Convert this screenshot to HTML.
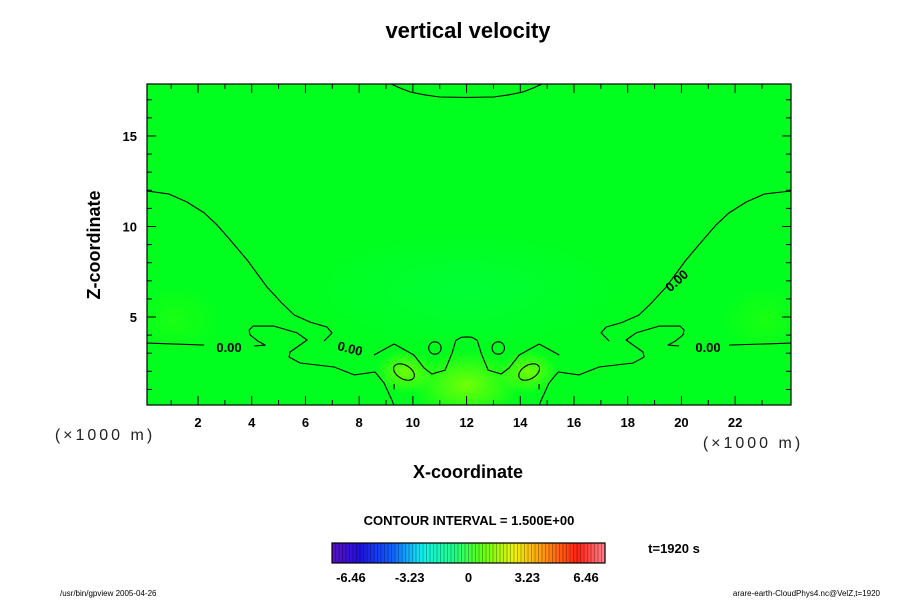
<!DOCTYPE html>
<html><head><meta charset="utf-8"><style>
body{margin:0;background:#fff;}
svg text{font-family:"Liberation Sans",sans-serif;}
</style></head><body>
<svg id="chart" width="900" height="600" viewBox="0 0 900 600" xmlns="http://www.w3.org/2000/svg">
<defs>
<radialGradient id="gY" cx="50%" cy="50%" r="50%"><stop offset="0" stop-color="#8cff00" stop-opacity="0.8"/><stop offset="1" stop-color="#8cff00" stop-opacity="0"/></radialGradient>
<radialGradient id="gC" cx="50%" cy="50%" r="50%"><stop offset="0" stop-color="#00ff70" stop-opacity="0.3"/><stop offset="1" stop-color="#00ff70" stop-opacity="0"/></radialGradient>
<radialGradient id="gL" cx="50%" cy="50%" r="50%"><stop offset="0" stop-color="#40ff00" stop-opacity="0.4"/><stop offset="1" stop-color="#40ff00" stop-opacity="0"/></radialGradient>
<clipPath id="plotclip"><rect x="147" y="84" width="644" height="321"/></clipPath>
<linearGradient id="cbar" x1="0" x2="1" y1="0" y2="0">
<stop offset="0" stop-color="#5a10c0"/><stop offset="0.1" stop-color="#2010e0"/><stop offset="0.22" stop-color="#1060ff"/><stop offset="0.33" stop-color="#10f0f0"/><stop offset="0.45" stop-color="#20ff80"/><stop offset="0.55" stop-color="#60ff10"/><stop offset="0.67" stop-color="#f0f010"/><stop offset="0.78" stop-color="#ff9010"/><stop offset="0.9" stop-color="#ff2010"/><stop offset="1" stop-color="#ff8090"/>
</linearGradient>
</defs>
<text x="468" y="38" text-anchor="middle" font-size="22" font-weight="bold">vertical velocity</text>
<g>
<rect x="147" y="84" width="644" height="321" fill="#00ff1e"/>
<g clip-path="url(#plotclip)">
<ellipse cx="466" cy="385" rx="55" ry="35" fill="url(#gY)"/>
<ellipse cx="405" cy="372" rx="30" ry="22" fill="url(#gY)"/>
<ellipse cx="528" cy="372" rx="30" ry="22" fill="url(#gY)"/>
<ellipse cx="466" cy="290" rx="160" ry="60" fill="url(#gC)"/>
<ellipse cx="175" cy="320" rx="45" ry="35" fill="url(#gL)"/>
<ellipse cx="765" cy="320" rx="45" ry="35" fill="url(#gL)"/>
</g>
<g id="contours" clip-path="url(#plotclip)"></g>
<g id="clabels">
<text x="229" y="352" text-anchor="middle" font-size="13" font-weight="bold">0.00</text>
<text x="708" y="352" text-anchor="middle" font-size="13" font-weight="bold">0.00</text>
<text x="350" y="353" text-anchor="middle" font-size="13" font-weight="bold" transform="rotate(14 350 349)">0.00</text>
<text x="677" y="285" text-anchor="middle" font-size="13" font-weight="bold" transform="rotate(-42 677 281)">0.00</text>
</g>
<rect x="147" y="84" width="644" height="321" fill="none" stroke="#000" stroke-width="1.2"/>
<g id="axes"></g>
</g>
<text x="105" y="440" text-anchor="middle" font-size="16" font-family="DejaVu Sans" font-weight="200" fill="#222" letter-spacing="3">(×1000 m)</text>
<text x="753" y="448" text-anchor="middle" font-size="16" font-family="DejaVu Sans" font-weight="200" fill="#222" letter-spacing="3">(×1000 m)</text>
<text x="468" y="478" text-anchor="middle" font-size="18" font-weight="bold">X-coordinate</text>
<text x="0" y="0" text-anchor="middle" font-size="18" font-weight="bold" transform="translate(100 245) rotate(-90)">Z-coordinate</text>
<text x="469" y="525" text-anchor="middle" font-size="13" font-weight="bold">CONTOUR INTERVAL = 1.500E+00</text>
<g id="colorbar">
<rect x="332" y="543" width="273" height="20" fill="url(#cbar)"/>
</g>
<text x="674" y="553" text-anchor="middle" font-size="13" font-weight="bold">t=1920 s</text>
<text x="60" y="596" font-size="8">/usr/bin/gpview 2005-04-26</text>
<text x="880" y="596" text-anchor="end" font-size="8">arare-earth-CloudPhys4.nc@VelZ,t=1920</text>
</svg>
<script>
// axis data
const xTicksMajor = [2,4,6,8,10,12,14,16,18,20,22];
const xTicksMinor = [1,3,5,7,9,11,13,15,17,19,21,23];
const yTicksMajor = [5,10,15];
const yTicksMinor = [1,2,3,4,6,7,8,9,11,12,13,14,16,17];
const yTickLabels = ["5","10","15"];
// contour data (x in 1000 m, z in 1000 m), left half; mirrored about x=12
const outerLeft = [[0.1,11.96],[0.9,11.8],[1.59,11.35],[2.23,10.75],[2.7,10.1],[3.2,9.25],[3.83,8.15],[4.57,6.66],[5.1,5.8],[5.58,5.11],[6.2,4.7],[6.8,4.45],[6.99,4.12],[6.69,3.67]];
const lowLeftA = [[0.1,3.56],[2.23,3.45]];
const lowLeftB = [[4.09,3.4],[4.5,3.45],[4.23,3.67],[3.94,4.01],[3.9,4.28],[4.05,4.5],[4.83,4.5],[5.69,4.12],[6.06,3.73],[5.43,3.07],[5.39,2.79],[5.8,2.46],[7.07,2.24],[7.81,1.8],[8.59,1.96],[8.93,1.35],[9.22,0.41],[9.3,0.1]];
const centerLeft = [[8.55,2.9],[9.3,3.51],[10.04,2.9],[10.42,2.18],[10.71,1.85],[11.2,2.07],[11.46,3.01],[11.6,3.7],[11.8,3.88],[12,3.9]];
const topArcLeft = [[9.19,17.87],[9.52,17.65],[9.9,17.43],[10.45,17.27],[11.0,17.15],[12,17.13]];
const tickLeft = [[9.3,1.3],[9.3,1.0]];
const circles = [[10.82,3.29,0.23]];
const ellipses = [[9.67,1.96,0.42,0.38]];
// colorbar data
const cbTickValues = [-6.46,-3.23,0,3.23,6.46];
const cbTickLabels = ["-6.46","-3.23","0","3.23","6.46"];
const cbMin = -7.5, cbMax = 7.5, cbBands = 78;

const NS='http://www.w3.org/2000/svg';
const X0=147,X1=791,Y0=405,Y1=84, xd=[0.1,24.08], zd=[0.14,17.87];
function sx(v){return X0+(v-xd[0])/(xd[1]-xd[0])*(X1-X0);}
function sy(v){return Y0-(v-zd[0])/(zd[1]-zd[0])*(Y0-Y1);}
function mk(tag,attrs,parent){const e=document.createElementNS(NS,tag);for(const k in attrs)e.setAttribute(k,attrs[k]);parent.appendChild(e);return e;}
function mir(pts){return pts.map(p=>[p[0]<=0.1?24.08:24-p[0],p[1]]);}
const cg=document.getElementById('contours');
function line(pts){
  const d=pts.map((p,i)=>(i?'L':'M')+sx(p[0]).toFixed(1)+' '+sy(p[1]).toFixed(1)).join(' ');
  const e=mk('path',{d:d,fill:'none',stroke:'#000','stroke-width':1.1,'stroke-linejoin':'round'},cg);
  
  
}
[outerLeft,lowLeftA,lowLeftB,tickLeft].forEach(p=>{line(p);line(mir(p));});
line(centerLeft.concat(mir(centerLeft).reverse()));
line(topArcLeft.concat(mir(topArcLeft).reverse()));
circles.forEach(c=>{[c[0],24-c[0]].forEach(cx=>{
  const e=mk('ellipse',{cx:sx(cx),cy:sy(c[1]),rx:c[2]*26.9,ry:c[2]*26.9,fill:'none',stroke:'#000','stroke-width':1.1},cg);
  
  
});});
ellipses.forEach(c=>{[[c[0],30],[24-c[0],-30]].forEach(q=>{
  const x=sx(q[0]),y=sy(c[1]);
  const e=mk('ellipse',{cx:x,cy:y,rx:c[2]*26.9,ry:c[3]*18.1,fill:'none',stroke:'#000','stroke-width':1.1,transform:'rotate('+q[1]+' '+x+' '+y+')'},cg);
  
  
});});
// axes
const ag=document.getElementById('axes');
function tk(x1,y1,x2,y2){const e=mk('line',{x1:x1,y1:y1,x2:x2,y2:y2,stroke:'#000','stroke-width':1},ag);
  
  }
xTicksMajor.forEach(v=>{const x=sx(v);tk(x,Y0,x,Y0-9);tk(x,Y1,x,Y1+9);
  const t=mk('text',{x:x,y:427,'text-anchor':'middle','font-size':13,'font-weight':'bold'},ag);t.textContent=String(v);
  
  });
xTicksMinor.forEach(v=>{const x=sx(v);tk(x,Y0,x,Y0-5);tk(x,Y1,x,Y1+5);});
yTicksMajor.forEach((v,i)=>{const y=sy(v);tk(X0,y,X0+9,y);tk(X1,y,X1-9,y);
  const t=mk('text',{x:137,y:y+5,'text-anchor':'end','font-size':13,'font-weight':'bold'},ag);t.textContent=yTickLabels[i];
  
  });
yTicksMinor.forEach(v=>{const y=sy(v);tk(X0,y,X0+5,y);tk(X1,y,X1-5,y);});
// colorbar
const cb=document.getElementById('colorbar');
const CB0=332,CB1=605;
function cx(v){return CB0+(v-cbMin)/(cbMax-cbMin)*(CB1-CB0);}
for(let i=1;i<cbBands;i++){const x=CB0+i*(CB1-CB0)/cbBands;
  const e=mk('line',{x1:x,y1:543,x2:x,y2:563,stroke:'#000','stroke-opacity':0.35,'stroke-width':0.8},cb);
  
  }
const fr=mk('rect',{x:CB0,y:543,width:CB1-CB0,height:20,fill:'none',stroke:'#000','stroke-width':1.2},cb);


cbTickValues.forEach((v,i)=>{const t=mk('text',{x:cx(v),y:582,'text-anchor':'middle','font-size':13,'font-weight':'bold'},cb);t.textContent=cbTickLabels[i];
  
  });
</script>
</body></html>
